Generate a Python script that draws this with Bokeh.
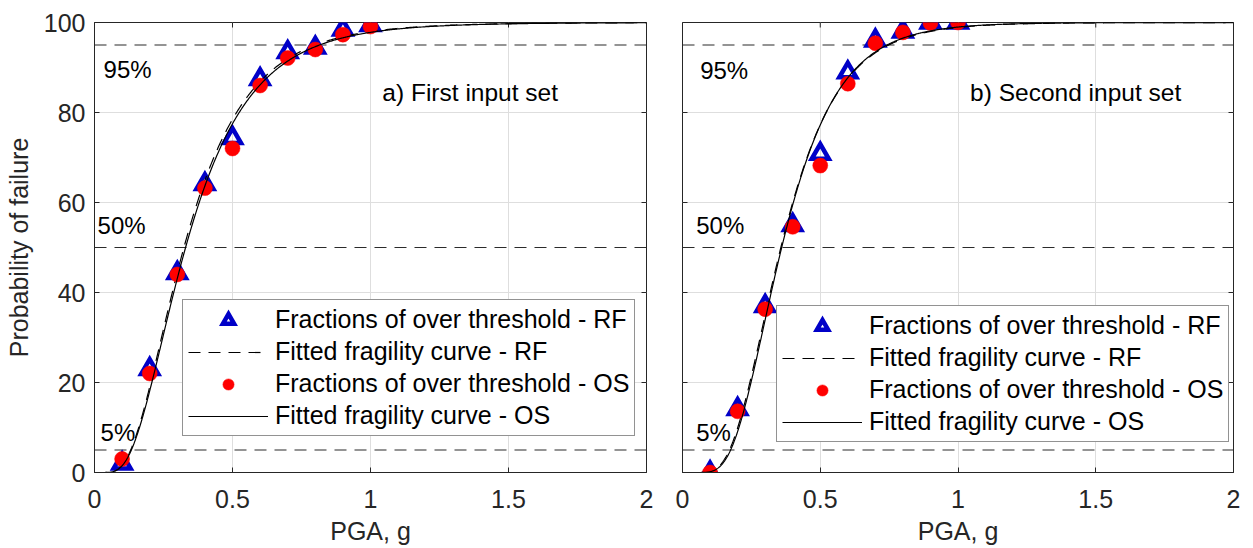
import math
import numpy as np
from bokeh.plotting import figure
from bokeh.models import FixedTicker, Legend, LegendItem, Range1d
from bokeh.layouts import row
from bokeh.embed import file_html
from bokeh.resources import INLINE
from bokeh.core.properties import value

# ---------------- data ----------------
pga = [0.1, 0.2, 0.3, 0.4, 0.5, 0.6, 0.7, 0.8, 0.9, 1.0]

# a) First input set
rf_a = [2.0, 23.0, 44.3, 64.1, 74.3, 87.4, 93.4, 94.4, 98.4, 99.4]
os_a = [3.0, 22.0, 44.0, 63.2, 72.0, 86.0, 92.1, 94.0, 97.3, 99.1]
# b) Second input set
rf_b = [0.0, 14.1, 37.0, 55.0, 70.8, 88.9, 96.0, 98.0, 100.0, 100.0]
os_b = [0.0, 13.6, 36.3, 54.6, 68.2, 86.4, 95.4, 97.8, 99.9, 100.0]

# fitted lognormal fragility curves: (median PGA, log-std beta)
fit_a_rf = (0.324, 0.55)
fit_a_os = (0.330, 0.55)
fit_b_rf = (0.357, 0.45)
fit_b_os = (0.360, 0.44)

thresholds = [5, 50, 95]
threshold_labels = ["5%", "50%", "95%"]

panel_titles = ["a) First input set", "b) Second input set"]
legend_labels = ["Fractions of over threshold - RF", "Fitted fragility curve - RF",
                 "Fractions of over threshold - OS", "Fitted fragility curve - OS"]

x_ticks = [0, 0.5, 1, 1.5, 2]
x_tick_labels = ["0", "0.5", "1", "1.5", "2"]
y_ticks = [0, 20, 40, 60, 80, 100]
y_tick_labels = ["0", "20", "40", "60", "80", "100"]

x_label = "PGA, g"
y_label = "Probability of failure"

# ---------------- styling / positions ----------------
FONT = "Liberation Sans"
AX = "#262626"
BLUE = "#0000c8"
RED = "#ff0000"

# label positions (data coords) for the percentage texts, per panel
pct_x = [[0.022, 0.011, 0.033], [0.050, 0.050, 0.064]]
pct_y = [[8.9, 54.9, 89.5], [8.9, 54.9, 89.4]]
title_xy = [(1.043, 84.5), (1.044, 84.5)]
legend_loc = [(88, 36), (94, 30)]

xs = np.linspace(0.0, 2.0, 801)


def frag(params):
    med, beta = params
    out = []
    for x in xs:
        if x <= 0:
            out.append(0.0)
        else:
            z = math.log(x / med) / (beta * math.sqrt(2.0))
            out.append(100.0 * 0.5 * (1.0 + math.erf(z)))
    return out


def style_axis(ax):
    ax.axis_line_color = AX
    ax.axis_line_width = 1
    ax.major_tick_line_color = AX
    ax.major_tick_in = 5
    ax.major_tick_out = 0
    ax.minor_tick_line_color = None
    ax.major_label_text_font = FONT
    ax.major_label_text_color = AX
    ax.major_label_text_font_size = "25px"
    ax.axis_label_text_font = FONT
    ax.axis_label_text_font_style = "normal"
    ax.axis_label_text_color = AX
    ax.axis_label_text_font_size = "25px"


def make_panel(idx, rf, os_, fit_rf, fit_os, left_border, right_border, frame_w, show_y):
    p = figure(frame_width=frame_w, frame_height=450,
               x_range=Range1d(0, 2), y_range=Range1d(0, 100),
               output_backend="svg", toolbar_location=None,
               min_border_left=left_border, min_border_right=right_border,
               min_border_top=22, min_border_bottom=76,
               background_fill_color="white", border_fill_color="white")
    p.outline_line_color = AX
    p.outline_line_width = 1

    xt = FixedTicker(ticks=x_ticks)
    yt = FixedTicker(ticks=y_ticks)
    xo = {float(t): l for t, l in zip(x_ticks, x_tick_labels)}
    yo = {float(t): l for t, l in zip(y_ticks, y_tick_labels)}

    bx = p.xaxis[0]
    bx.ticker = xt
    bx.major_label_overrides = xo
    style_axis(bx)
    bx.major_label_standoff = 17
    bx.axis_label = x_label
    bx.axis_label_standoff = 6

    ly = p.yaxis[0]
    if show_y:
        ly.ticker = yt
        ly.major_label_overrides = yo
        style_axis(ly)
        ly.major_label_standoff = 9
        ly.axis_label = y_label
        ly.axis_label_standoff = 8
    else:
        ly.visible = False

    p.xgrid.ticker = xt
    p.ygrid.ticker = yt
    p.xgrid.grid_line_color = "#dedede"
    p.ygrid.grid_line_color = "#dedede"
    p.xgrid.grid_line_width = 1
    p.ygrid.grid_line_width = 1

    # inward ticks on the box edges without labels (clipped to the frame)
    p.scatter(x=x_ticks, y=[100] * len(x_ticks), marker="dash", angle=math.pi / 2,
              size=10, line_color=AX, line_width=1)
    p.scatter(x=[2] * len(y_ticks), y=y_ticks, marker="dash",
              size=10, line_color=AX, line_width=1)
    if not show_y:
        p.scatter(x=[0] * len(y_ticks), y=y_ticks, marker="dash",
                  size=10, line_color=AX, line_width=1)

    # threshold lines
    for t in thresholds:
        p.line(x=[0, 2], y=[t, t], line_color="#2b2b2b", line_width=1.1, line_dash="12 8")

    p.text(x=pct_x[idx], y=pct_y[idx], text=threshold_labels,
           text_font=value(FONT), text_font_size="24px", text_color="black",
           text_align="left", text_baseline="middle")
    p.text(x=[title_xy[idx][0]], y=[title_xy[idx][1]], text=[panel_titles[idx]],
           text_font=value(FONT), text_font_size="24.5px", text_color="black",
           text_align="left", text_baseline="middle")

    r1 = p.scatter(x=pga, y=rf, marker="triangle", size=17, fill_color=None,
                   line_color=BLUE, line_width=4.5, line_join="miter")
    r2 = p.line(x=xs, y=frag(fit_rf), line_color="black", line_width=1.2, line_dash="12 8")
    r3 = p.scatter(x=pga, y=os_, marker="circle", size=15, fill_color=RED,
                   line_color=RED, line_width=0.5)
    r4 = p.line(x=xs, y=frag(fit_os), line_color="black", line_width=1.2)

    items = [LegendItem(label=legend_labels[i], renderers=[r])
             for i, r in enumerate([r1, r2, r3, r4])]
    leg = Legend(items=items, location=legend_loc[idx], orientation="vertical",
                 label_text_font=FONT, label_text_font_size="25px",
                 label_text_color="black",
                 glyph_width=80, glyph_height=28, label_height=28,
                 label_standoff=7, padding=5, spacing=3, margin=0,
                 border_line_color=AX, border_line_width=1,
                 background_fill_color="white", background_fill_alpha=1.0)
    p.add_layout(leg)
    return p


p1 = make_panel(0, rf_a, os_a, fit_a_rf, fit_a_os, 94, 18, 552, True)
p2 = make_panel(1, rf_b, os_b, fit_b_rf, fit_b_os, 18, 20, 551, False)

layout = row(p1, p2, spacing=0)

open("out.html", "w").write(file_html(layout, INLINE))
